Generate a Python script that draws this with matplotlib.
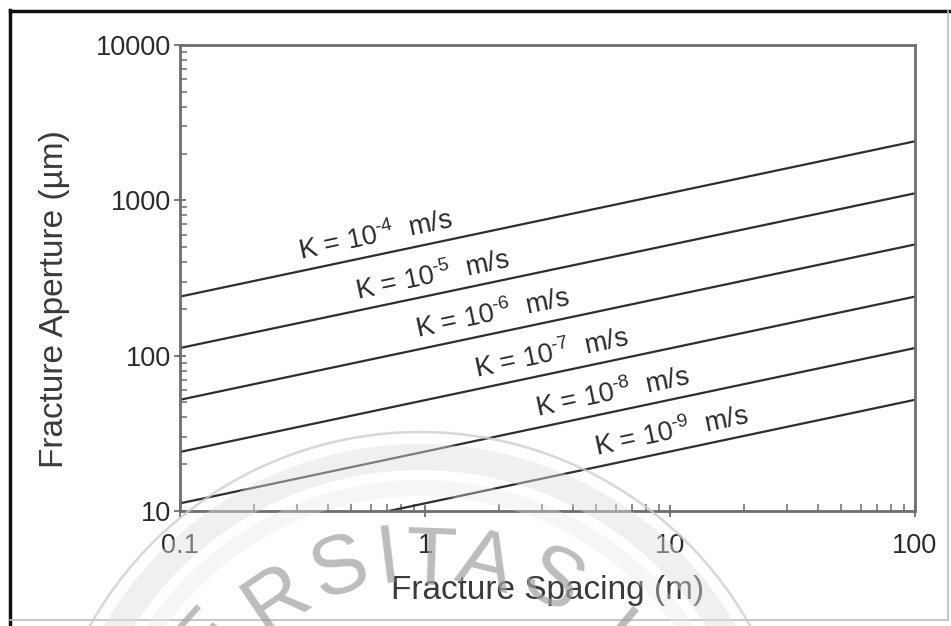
"""Fracture aperture vs fracture spacing for a range of hydraulic conductivities."""

import numpy as np
import matplotlib
matplotlib.use("Agg")
import matplotlib.pyplot as plt
from matplotlib.lines import Line2D
from matplotlib.patches import Circle, Wedge
from matplotlib.ticker import FixedLocator, FuncFormatter, LogLocator, NullFormatter

# spacing (m) at the two ends of each line, aperture (um)
SPACING = [0.1, 100.0]
K_EXP = [-4, -5, -6, -7, -8, -9]
APERTURE = {
    -4: [240, 2400],
    -5: [112, 1110],
    -6: [52, 520],
    -7: [24, 240],
    -8: [11.2, 112],
    -9: [5.2, 52],
}
XTICKS = [0.1, 1, 10, 100]
YTICKS = [10, 100, 1000, 10000]

# where each label starts along its line (spacing, m)
LABEL_AT = {-4: 0.31, -5: 0.53, -6: 0.93, -7: 1.63, -8: 2.87, -9: 5.0}

INK = "#2a2a2a"
AXC = "#6e6e6e"

plt.rcParams.update({
    "font.family": ["Liberation Sans", "DejaVu Sans"],
    "mathtext.fontset": "custom",
    "mathtext.rm": "Liberation Sans",
    "mathtext.it": "Liberation Sans",
    "text.color": INK,
})

W, H = 951, 626
fig = plt.figure(figsize=(W / 100, H / 100), dpi=100)
ax = fig.add_axes([180 / W, 1 - 511 / H, 735 / W, 466 / H])

for k in K_EXP:
    ax.plot(SPACING, APERTURE[k], color="#2e2e2e", lw=1.6, solid_capstyle="butt")

ax.set_xscale("log")
ax.set_yscale("log")
ax.set_xlim(0.1, 100)
ax.set_ylim(10, 10000)

fmt = FuncFormatter(lambda v, _: f"{v:g}")
ax.xaxis.set_major_locator(FixedLocator(XTICKS))
ax.yaxis.set_major_locator(FixedLocator(YTICKS))
ax.xaxis.set_major_formatter(fmt)
ax.yaxis.set_major_formatter(fmt)
ax.xaxis.set_minor_locator(LogLocator(base=10, subs=np.arange(2, 10)))
ax.yaxis.set_minor_locator(LogLocator(base=10, subs=np.arange(2, 10)))
ax.xaxis.set_minor_formatter(NullFormatter())
ax.yaxis.set_minor_formatter(NullFormatter())
ax.tick_params(which="major", direction="inout", length=9, width=1.3, color=AXC,
               labelsize=19.5, labelcolor=INK, top=False, right=False)
ax.tick_params(axis="x", which="major", pad=11)
ax.tick_params(axis="y", which="major", pad=2)
ax.tick_params(which="minor", direction="in", length=5, width=1.1, color=AXC,
               top=False, right=False)
for s in ax.spines.values():
    s.set_color(AXC)
    s.set_linewidth(2)

ax.set_xlabel("Fracture Spacing (m)", fontsize=24, color="#3a3a3a", labelpad=12)
ax.set_ylabel("Fracture Aperture (\u00b5m)", fontsize=24, color="#3a3a3a")
ax.yaxis.set_label_coords(-0.150, 0.455)

# rotated labels sitting just above each line
p0 = ax.transData.transform((SPACING[0], APERTURE[-4][0]))
p1 = ax.transData.transform((SPACING[1], APERTURE[-4][1]))
ang = np.degrees(np.arctan2(p1[1] - p0[1], p1[0] - p0[0]))
for k in K_EXP:
    xs = LABEL_AT[k]
    lx = np.log10(SPACING)
    ly = np.log10(APERTURE[k])
    ys = 10 ** np.interp(np.log10(xs), lx, ly)
    ax.annotate(f"K = 10$^{{\\text{{-{abs(k)}}}}}$  m/s", (xs, ys), xytext=(0, 8),
                textcoords="offset points", rotation=ang, rotation_mode="anchor",
                ha="left", va="baseline", fontsize=19.5, color=INK)

# faint university watermark (ring + letters)
to_in = fig.dpi_scale_trans
cx, cy = 4.20, (H - 810) / 100
fig.add_artist(Circle((cx, cy), 3.78, transform=to_in, fill=False,
                      ec="#cdcdcd", lw=1.8, alpha=0.8, zorder=5))
fig.add_artist(Wedge((cx, cy), 3.66, 0, 360, width=0.26, transform=to_in,
                     fc="#dedede", ec="none", alpha=0.45, zorder=5))
fig.add_artist(Wedge((cx, cy), 3.30, 0, 360, width=0.16, transform=to_in,
                     fc="#e6e6e6", ec="none", alpha=0.35, zorder=5))
letters = [("E", 205, 640, 48), ("R", 277, 600, 34), ("S", 340, 570, 18),
           ("I", 388, 560, 7), ("T", 430, 563, -2), ("A", 485, 565, -14),
           ("S", 552, 583, -28), ("I", 610, 640, -40)]
for ch, px, py, rot in letters:
    fig.text(px / W, 1 - py / H, ch, fontsize=60, color="#a0a0a0", alpha=0.7,
             rotation=rot, ha="center", va="center", zorder=6)

# frame around the whole image
fig.add_artist(Line2D([10 / W, 10 / W], [0, 1 - 10 / H], color="#111111", lw=2.5, transform=fig.transFigure))
fig.add_artist(Line2D([10 / W, 1], [1 - 11 / H, 1 - 11 / H], color="#111111", lw=2.5, transform=fig.transFigure))
fig.add_artist(Line2D([948 / W, 948 / W], [6 / H, 1 - 11 / H], color="#bdbdbd", lw=1.2, transform=fig.transFigure))
fig.add_artist(Line2D([10 / W, 948 / W], [6 / H, 6 / H], color="#bdbdbd", lw=1.2, transform=fig.transFigure))

fig.savefig("out.png", dpi=100)
